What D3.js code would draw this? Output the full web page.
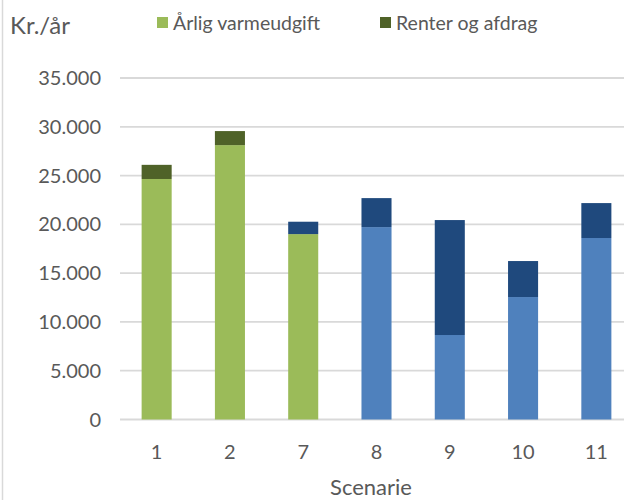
<!DOCTYPE html>
<html>
<head>
<meta charset="utf-8">
<script src="https://cdn.jsdelivr.net/npm/d3@7"></script>
<style>
    body { margin: 0; background: white; }
    svg { display: block; font-family: Lato, "Open Sans", sans-serif; }
</style>
</head>
<body>
<svg id="chart"></svg>
<script>
// data
const scenarios = ["1", "2", "7", "8", "9", "10", "11"];
const varmeudgift = [24650, 28120, 19000, 19720, 8660, 12550, 18600];
const renter = [1450, 1440, 1270, 2970, 11780, 3690, 3580];
const yTicks = [0, 5000, 10000, 15000, 20000, 25000, 30000, 35000];
const seriesNames = ["Årlig varmeudgift", "Renter og afdrag"];

// bottom part green for 1, 2, 7 and blue for the rest; top part dark green / dark blue
const lightColors = ["#9BBB59", "#9BBB59", "#9BBB59", "#4F81BD", "#4F81BD", "#4F81BD", "#4F81BD"];
const darkColors = ["#4F6228", "#4F6228", "#1F497D", "#1F497D", "#1F497D", "#1F497D", "#1F497D"];

let width = 624;
let height = 500;

let svg = d3.select("#chart")
    .attr("width", width)
    .attr("height", height);

let scaleX = d3.scaleBand()
    .domain(scenarios)
    .range([120, 633])
    .paddingInner(0.59)
    .paddingOuter(0.295);

let scaleY = d3.scaleLinear()
    .domain([0, 35000])
    .range([419.5, 78]);

let fmt = d3.format(",");
let fmtDk = v => fmt(v).replace(/,/g, ".");

// frame line on the left
svg.append("line")
    .attr("x1", 2.5).attr("x2", 2.5)
    .attr("y1", 0).attr("y2", height)
    .attr("stroke", "#d9d9d9")
    .attr("stroke-width", 1.5);

// gridlines
svg.selectAll(".grid")
    .data(yTicks)
    .enter()
    .append("line")
    .attr("class", "grid")
    .attr("x1", 120)
    .attr("x2", width)
    .attr("y1", d => scaleY(d))
    .attr("y2", d => scaleY(d))
    .attr("stroke", "#d9d9d9")
    .attr("stroke-width", 1.8);

// y tick labels
svg.selectAll(".ylabel")
    .data(yTicks)
    .enter()
    .append("text")
    .attr("class", "ylabel")
    .attr("x", 101)
    .attr("y", d => scaleY(d) + 7)
    .attr("text-anchor", "end")
    .style("fill", "#595959")
    .style("font-size", "20px")
    .text(d => fmtDk(d));

// bars
let groups = svg.selectAll(".bar-group")
    .data(scenarios)
    .enter()
    .append("g")
    .attr("class", "bar-group");

groups.append("rect")
    .attr("x", d => scaleX(d))
    .attr("y", (d, i) => scaleY(varmeudgift[i]))
    .attr("width", scaleX.bandwidth())
    .attr("height", (d, i) => scaleY(0) - scaleY(varmeudgift[i]))
    .attr("fill", (d, i) => lightColors[i]);

groups.append("rect")
    .attr("x", d => scaleX(d))
    .attr("y", (d, i) => scaleY(varmeudgift[i] + renter[i]))
    .attr("width", scaleX.bandwidth())
    .attr("height", (d, i) => scaleY(varmeudgift[i]) - scaleY(varmeudgift[i] + renter[i]))
    .attr("fill", (d, i) => darkColors[i]);

// x labels
svg.selectAll(".xlabel")
    .data(scenarios)
    .enter()
    .append("text")
    .attr("class", "xlabel")
    .attr("x", d => scaleX(d) + scaleX.bandwidth() / 2)
    .attr("y", 459)
    .attr("text-anchor", "middle")
    .style("fill", "#595959")
    .style("font-size", "20px")
    .text(d => d);

// axis title
svg.append("text")
    .attr("x", 371)
    .attr("y", 495)
    .attr("text-anchor", "middle")
    .style("fill", "#595959")
    .style("font-size", "22px")
    .text("Scenarie");

// unit label
svg.append("text")
    .attr("x", 10)
    .attr("y", 34)
    .style("fill", "#595959")
    .style("font-size", "24px")
    .text("Kr./år");

// legend
let legendX = [157, 380];
let legendColors = ["#9BBB59", "#4F6228"];
let legend = svg.selectAll(".legend")
    .data(seriesNames)
    .enter()
    .append("g")
    .attr("class", "legend")
    .attr("transform", (d, i) => `translate(${legendX[i]},0)`);

legend.append("rect")
    .attr("x", 0)
    .attr("y", 17)
    .attr("width", 11)
    .attr("height", 11)
    .attr("fill", (d, i) => legendColors[i]);

legend.append("text")
    .attr("x", 16)
    .attr("y", 30)
    .style("fill", "#595959")
    .style("font-size", "19.5px")
    .text(d => d);
</script>
</body>
</html>
